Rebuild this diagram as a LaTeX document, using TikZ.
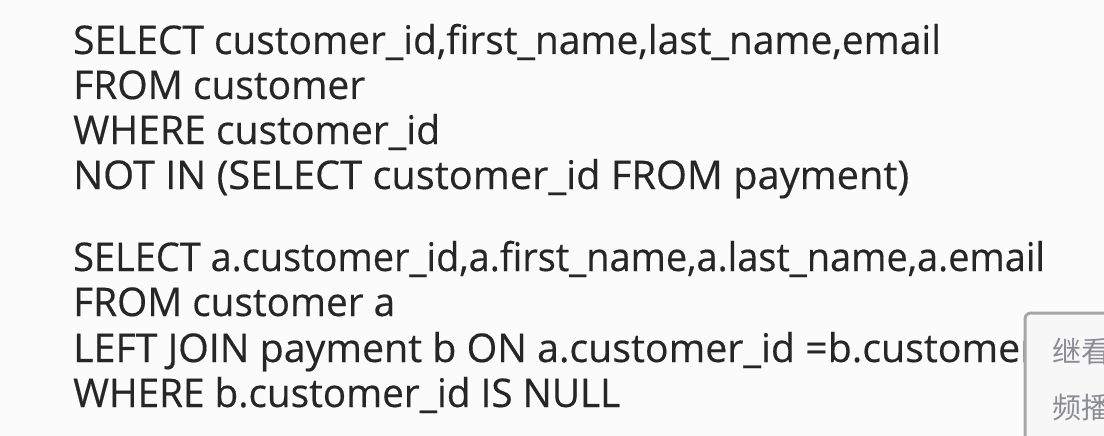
\documentclass[tikz,border=0pt]{standalone}
\usepackage{fontspec}
\usepackage{graphicx}
\setmainfont{Open Sans}[FakeBold=0.4]
\newfontfamily\cjk{Noto Sans CJK SC}
\definecolor{bg}{HTML}{FBFBFB}
\definecolor{ink}{HTML}{262626}
\definecolor{boxline}{HTML}{A6A6A6}
\definecolor{boxfill}{HTML}{F7F7F7}
\definecolor{cjkink}{HTML}{8C8C96}
\newlength\sqlnatw
% scale #3 horizontally so that #2 gets width #1 (pt)
\newcommand\sqlfitx[3]{\settowidth\sqlnatw{#2}\pgfmathsetmacro\sqlfac{#1/\sqlnatw}\scalebox{\sqlfac}[1]{#3}}
\newcommand\sqlfit[2]{\sqlfitx{#1}{#2}{#2}}
\begin{document}
\begin{tikzpicture}[x=1pt,y=-1pt,
  sql/.style={anchor=base west,inner sep=0pt,text=ink,font=\fontsize{39.5}{40}\selectfont},
  popup/.style={anchor=base west,inner sep=0pt,text=cjkink,font=\cjk\fontsize{29}{29}\selectfont}]
\useasboundingbox (0,0) rectangle (1104,436);
\fill[bg] (0,0) rectangle (1104,436);
\node[sql] (l1) at (73,54) {\sqlfit{868}{SELECT customer\_id,first\_name,last\_name,email}};
\node[sql] (l2) at (73,99) {\sqlfit{292}{FROM customer}};
\node[sql] (l3) at (73,144) {\sqlfit{367}{WHERE customer\_id}};
\node[sql] (l4) at (73,189) {\sqlfit{836}{NOT IN (SELECT customer\_id FROM payment)}};
\node[sql] (m1) at (73,271) {\sqlfit{972}{SELECT a.customer\_id,a.first\_name,a.last\_name,a.email}};
\node[sql] (m2) at (73,316) {\sqlfit{322}{FROM customer a}};
\node[sql] (m3) at (73,362) {\sqlfitx{947}{LEFT JOIN payment b ON a.customer\_id =b.custome}{LEFT JOIN payment b ON a.customer\_id =b.customer}};
\node[sql] (m4) at (73,407) {\sqlfit{547}{WHERE b.customer\_id IS NULL}};
\begin{scope}
\clip (0,0) rectangle (1104,436);
\filldraw[draw=boxline,fill=boxfill,line width=3pt,rounded corners=6pt]
  (1025,450) -- (1025,313) -- (1120,313) -- (1120,450) -- cycle;
\node[popup] (p1) at (1052,362) {继看};
\node[popup] (p2) at (1052,418) {频播};
\end{scope}
\end{tikzpicture}
\end{document}
